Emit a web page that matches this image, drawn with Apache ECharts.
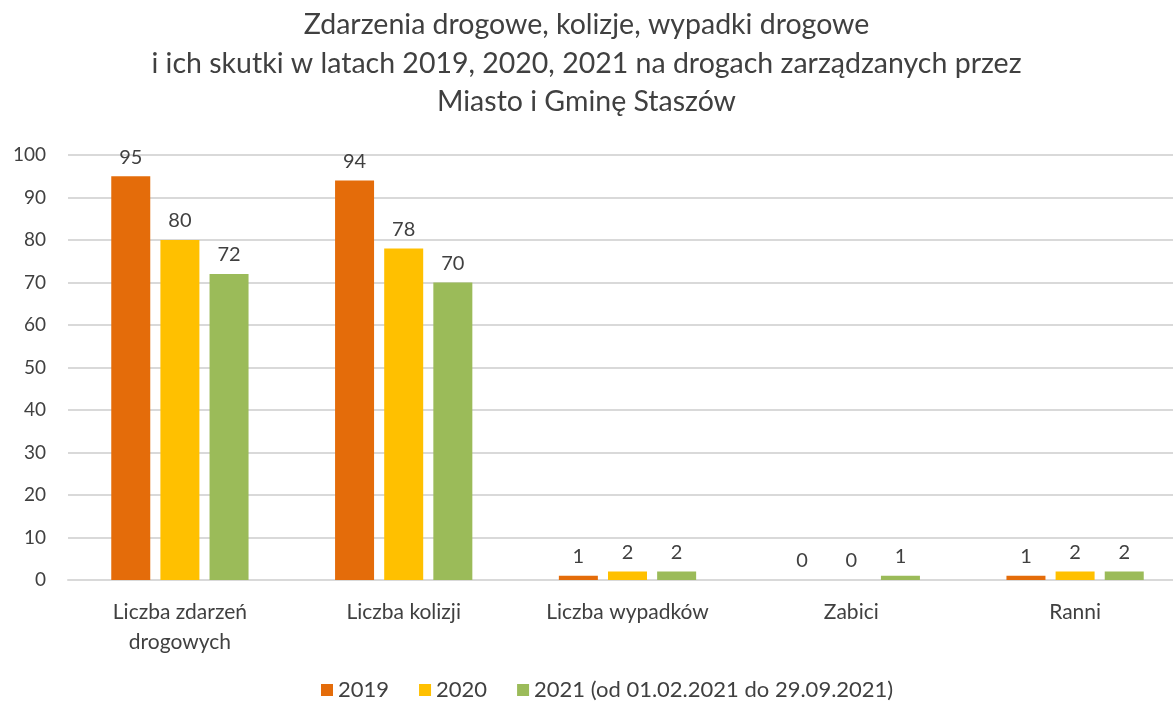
<!DOCTYPE html>
<html>
<head>
<meta charset="utf-8">
<script src="https://cdn.jsdelivr.net/npm/echarts@6/dist/echarts.min.js"></script>
<style>
  html, body { margin: 0; padding: 0; background: #fff; }
  #chart { width: 1173px; height: 704px; }
</style>
</head>
<body>
<div id="chart"></div>
<script>
var categories = ['Liczba zdarzeń\ndrogowych', 'Liczba kolizji', 'Liczba wypadków', 'Zabici', 'Ranni'];
var seriesNames = ['2019', '2020', '2021 (od 01.02.2021 do 29.09.2021)'];
var values2019 = [95, 94, 1, 0, 1];
var values2020 = [80, 78, 2, 0, 2];
var values2021 = [72, 70, 2, 1, 2];
var colors = ['#E46C0A', '#FFC000', '#9BBB59'];

var font = 'Lato, "Open Sans", sans-serif';
var textColor = '#404040';

function makeSeries(name, data, color) {
  return {
    name: name,
    type: 'bar',
    data: data,
    barWidth: 39,
    barGap: '26%',
    itemStyle: { color: color },
    label: {
      show: true,
      position: 'top',
      distance: 9,
      color: textColor,
      fontSize: 20,
      fontFamily: font
    }
  };
}

var chart = echarts.init(document.getElementById('chart'), null, { renderer: 'canvas' });
chart.setOption({
  animation: false,
  title: {
    text: 'Zdarzenia drogowe, kolizje, wypadki drogowe\ni ich skutki w latach 2019, 2020, 2021 na drogach zarządzanych przez\nMiasto i Gminę Staszów',
    left: 'center',
    top: 1,
    textStyle: {
      color: textColor,
      fontSize: 28.5,
      fontWeight: 'normal',
      fontFamily: font,
      lineHeight: 38.5
    }
  },
  legend: {
    bottom: -2,
    left: 316,
    itemWidth: 12,
    itemHeight: 12,
    itemGap: 30,
    icon: 'rect',
    textStyle: { color: textColor, fontSize: 22, fontFamily: font },
    data: seriesNames
  },
  grid: { left: 68, top: 155, width: 1119, height: 425, outerBoundsMode: 'none' },
  xAxis: {
    type: 'category',
    data: categories,
    axisLine: { show: true, lineStyle: { color: '#D9D9D9', width: 2 } },
    axisTick: { show: false },
    axisLabel: {
      color: textColor,
      fontSize: 21,
      fontFamily: font,
      margin: 17,
      lineHeight: 30
    }
  },
  yAxis: {
    type: 'value',
    min: 0,
    max: 100,
    interval: 10,
    axisLine: { show: false },
    axisTick: { show: false },
    splitLine: { lineStyle: { color: '#D9D9D9', width: 2 } },
    axisLabel: { color: textColor, fontSize: 19, fontFamily: font, margin: 22 }
  },
  series: [
    makeSeries(seriesNames[0], values2019, colors[0]),
    makeSeries(seriesNames[1], values2020, colors[1]),
    makeSeries(seriesNames[2], values2021, colors[2])
  ]
});
</script>
</body>
</html>
